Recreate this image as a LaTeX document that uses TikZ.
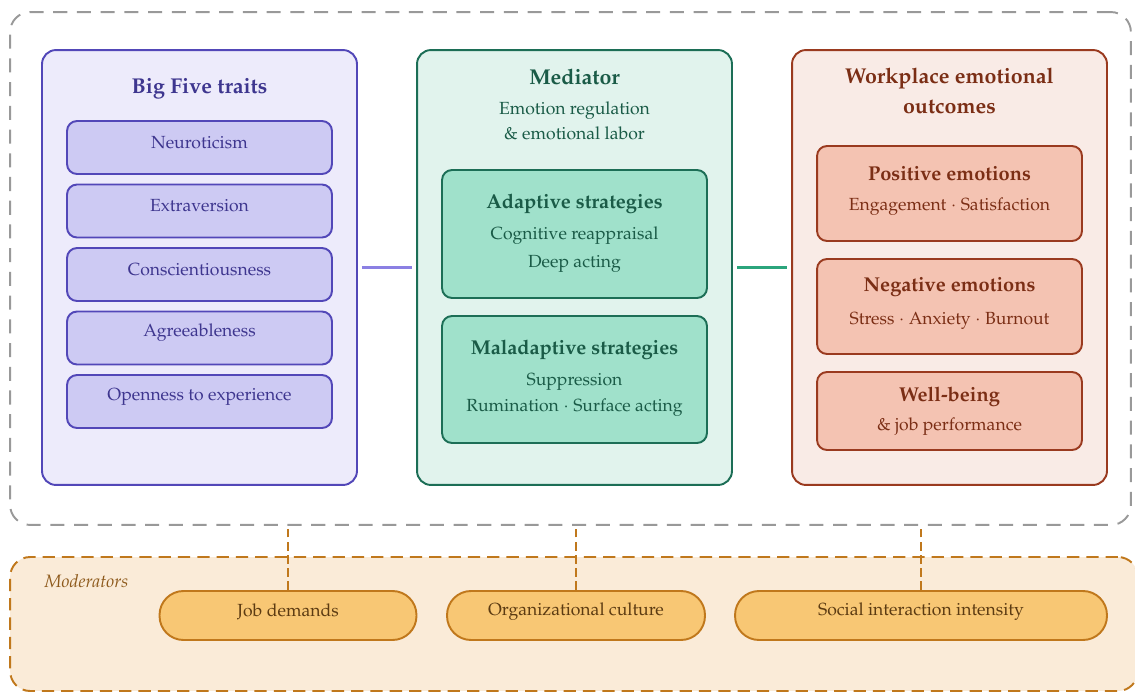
\documentclass[tikz,border=0pt]{standalone}
\usepackage[T1]{fontenc}
\usepackage{mathpazo}
\usepackage{tikz}
\usetikzlibrary{positioning,calc}
\definecolor{traitline}{HTML}{5247B8}
\definecolor{traitfill}{HTML}{EDEBFB}
\definecolor{traitbox}{HTML}{CDCAF3}
\definecolor{traittext}{HTML}{3E368F}
\definecolor{traitlink}{HTML}{8B80E3}
\definecolor{medline}{HTML}{1C6E56}
\definecolor{medfill}{HTML}{E1F3ED}
\definecolor{medbox}{HTML}{A0E1CB}
\definecolor{medtext}{HTML}{1A5B47}
\definecolor{medlink}{HTML}{2BA57C}
\definecolor{outline}{HTML}{9A3A1F}
\definecolor{outfill}{HTML}{F9EBE6}
\definecolor{outbox}{HTML}{F4C3B2}
\definecolor{outtext}{HTML}{7B2E15}
\definecolor{modline}{HTML}{C0781C}
\definecolor{modfill}{HTML}{FAEBD8}
\definecolor{modpill}{HTML}{F8C774}
\definecolor{modtext}{HTML}{5C3B12}
\definecolor{modlabel}{HTML}{8E5A1C}

\tikzset{
  panel/.style={draw, line width=1.1pt, rounded corners=0.28cm,
    minimum width=6.3cm, minimum height=8.7cm},
  innerbox/.style={draw, line width=1.1pt, rounded corners=0.2cm,
    minimum width=5.3cm},
  pill/.style={draw=modline, fill=modpill, line width=1.1pt,
    rounded corners=0.48cm, minimum height=0.98cm},
  pilltext/.style={text=modtext, font=\fontsize{10}{12}\selectfont},
  title/.style={font=\bfseries\fontsize{12.2}{17}\selectfont, align=center},
  subtitle/.style={font=\bfseries\fontsize{11.4}{14}\selectfont},
  body/.style={font=\fontsize{10}{14.2}\selectfont, align=center},
}

\begin{document}
\begin{tikzpicture}[x=0.02cm, y=-0.02cm]
    \useasboundingbox (0,0) rectangle (1135,693);

    % outer frame and moderator band
    \node[draw=black!40, line width=1.1pt, dash pattern=on 8pt off 5.5pt,
      rounded corners=0.4cm, minimum width=22.42cm, minimum height=10.26cm]
      (frame) at (570.5,268.5) {};
    \node[draw=modline, fill=modfill, line width=1.1pt, dash pattern=on 7pt off 4pt,
      rounded corners=0.4cm, minimum width=22.56cm, minimum height=2.68cm]
      (modbox) at (574,624) {};
    \node[text=modlabel, font=\itshape\fontsize{10.2}{12}\selectfont] (modname) at (86.5,581) {Moderators};

    % Big Five panel
    \node[panel, draw=traitline, fill=traitfill] (big) at (199.5,267.5) {};
    \node[title, text=traittext] (bigtitle) at (199.5,89) {Big Five traits};
    \foreach \name/\txt [count=\i] in {neuro/Neuroticism, extra/Extraversion,
        consc/Conscientiousness, agree/Agreeableness, open/Openness to experience} {
      \node[innerbox, draw=traitline, fill=traitbox, minimum height=1.06cm]
        (\name) at (199.5,84+63.5*\i) {};
      \node[body, text=traittext] (\name txt) at (199.5,79+63.5*\i) {\txt};
    }

    % Mediator panel
    \node[panel, draw=medline, fill=medfill] (med) at (574.5,267.5) {};
    \node[title, text=medtext] (medtitle) at (574.5,77) {Mediator};
    \node[body, text=medtext] (medsub) at (574.5,121) {Emotion regulation\\\& emotional labor};
    \node[innerbox, draw=medline, fill=medbox, minimum height=2.56cm] (adapt) at (574.5,234) {};
    \node[subtitle, text=medtext] (adapttitle) at (574.5,204) {Adaptive strategies};
    \node[body, text=medtext, font=\fontsize{10}{16}\selectfont] (adapttxt) at (574.5,250)
      {Cognitive reappraisal\\Deep acting};
    \node[innerbox, draw=medline, fill=medbox, minimum height=2.54cm] (malad) at (574.5,379.5) {};
    \node[subtitle, text=medtext] (maladtitle) at (574.5,350) {Maladaptive strategies};
    \node[body, text=medtext, font=\fontsize{10}{14.8}\selectfont] (maladtxt) at (574.5,395)
      {Suppression\\Rumination $\cdot$ Surface acting};

    % Outcomes panel
    \node[panel, draw=outline, fill=outfill] (out) at (949.5,267.5) {};
    \node[title, text=outtext] (outtitle) at (949.5,91) {Workplace emotional\\outcomes};
    \node[innerbox, draw=outline, fill=outbox, minimum height=1.9cm] (pos) at (949.5,193.5) {};
    \node[subtitle, text=outtext] (postitle) at (949.5,174) {Positive emotions};
    \node[body, text=outtext] (postxt) at (949.5,207) {Engagement $\cdot$ Satisfaction};
    \node[innerbox, draw=outline, fill=outbox, minimum height=1.9cm] (neg) at (949.5,306.5) {};
    \node[subtitle, text=outtext] (negtitle) at (949.5,287) {Negative emotions};
    \node[body, text=outtext] (negtxt) at (949.5,321) {Stress $\cdot$ Anxiety $\cdot$ Burnout};
    \node[innerbox, draw=outline, fill=outbox, minimum height=1.56cm] (well) at (949.5,411) {};
    \node[subtitle, text=outtext] (welltitle) at (949.5,397) {Well-being};
    \node[body, text=outtext] (welltxt) at (949.5,427) {\& job performance};

    % links between panels
    \draw[traitlink, line width=1.7pt, shorten <=0.08cm, shorten >=0.08cm] (big.east) -- (med.west);
    \draw[medlink, line width=1.7pt, shorten <=0.08cm, shorten >=0.08cm] (med.east) -- (out.west);

    % moderators
    \node[pill, minimum width=5.14cm] (job) at (288,615.5) {};
    \node[pill, minimum width=5.16cm] (culture) at (576,615.5) {};
    \node[pill, minimum width=7.44cm] (social) at (921,615.5) {};
    \node[pilltext] (jobtxt) at (288,612) {Job demands};
    \node[pilltext] (culturetxt) at (576,612) {Organizational culture};
    \node[pilltext] (socialtxt) at (921,612) {Social interaction intensity};
    \foreach \m in {job,culture,social}
      \draw[modline, line width=1.1pt, dash pattern=on 5pt off 2.5pt] (\m.north) -- (\m.north |- frame.south);

\end{tikzpicture}
\end{document}
